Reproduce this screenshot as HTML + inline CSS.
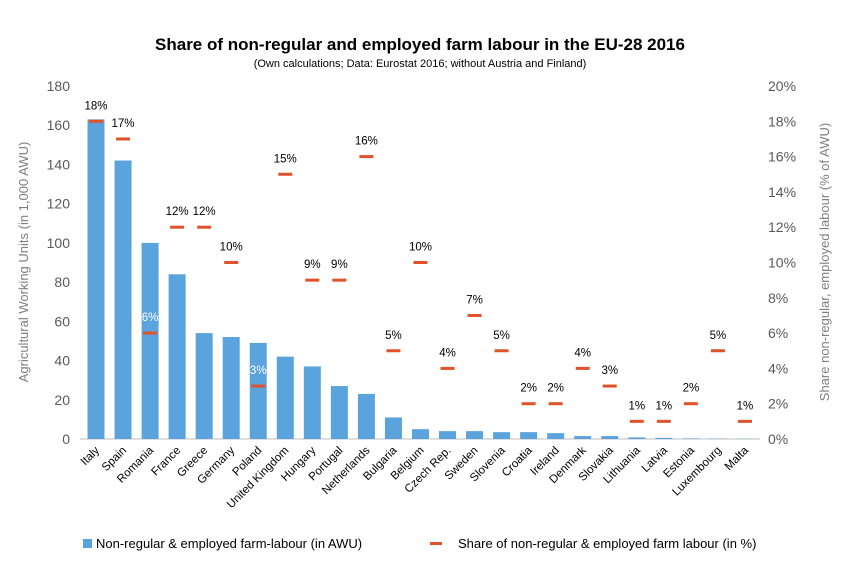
<!DOCTYPE html>
<html><head><meta charset="utf-8"><style>
body{margin:0;background:#fff;}
svg text{font-family:"Liberation Sans",Arial,sans-serif;}
</style></head><body>
<svg id="chart" width="850" height="572" xmlns="http://www.w3.org/2000/svg">
<text x="420" y="50" text-anchor="middle" font-size="17" font-weight="bold" fill="#000">Share of non-regular and employed farm labour in the EU-28 2016</text>
<text x="420" y="67" text-anchor="middle" font-size="11" fill="#000">(Own calculations; Data: Eurostat 2016; without Austria and Finland)</text>
<text transform="translate(28,262) rotate(-90)" text-anchor="middle" font-size="13" fill="#7f7f7f">Agricultural Working Units (in 1,000 AWU)</text>
<text transform="translate(829,262) rotate(-90)" text-anchor="middle" font-size="13" fill="#7f7f7f">Share non-regular, employed labour (% of AWU)</text>
<g id="axes"></g>
<g id="bars"></g>
<g id="marks"></g>
<g>
<rect x="83" y="539" width="9" height="9" fill="#5ba3dc"/>
<text x="96" y="548" font-size="13" fill="#000">Non-regular &amp; employed farm-labour (in AWU)</text>
<rect x="430" y="542" width="12" height="3" fill="#e0522a"/>
<text x="458" y="548" font-size="13" fill="#000">Share of non-regular &amp; employed farm labour (in %)</text>
</g>
</svg>
<script>
const categories=["Italy","Spain","Romania","France","Greece","Germany","Poland","United Kingdom","Hungary","Portugal","Netherlands","Bulgaria","Belgium","Czech Rep.","Sweden","Slovenia","Croatia","Ireland","Denmark","Slovakia","Lithuania","Latvia","Estonia","Luxembourg","Malta"];
const awu=[163,142,100,84,54,52,49,42,37,27,23,11,5,4,4,3.5,3.5,3,1.5,1.5,0.8,0.6,0.3,0.2,0.1];
const share=[18,17,6,12,12,10,3,15,9,9,16,5,10,4,7,5,2,2,4,3,1,1,2,5,1];
const leftTicks=[0,20,40,60,80,100,120,140,160,180];
const rightTicks=[0,2,4,6,8,10,12,14,16,18,20];
const NS="http://www.w3.org/2000/svg";
const y0=439,yTop=86,x0=96,step=27.04,plotL=80,plotR=760;
function yL(v){return y0-(v/180)*(y0-yTop);}
function yR(v){return y0-(v/20)*(y0-yTop);}
function xC(i){return x0+i*step;}
function mk(t,a,p,txt){const e=document.createElementNS(NS,t);for(const k in a)e.setAttribute(k,a[k]);if(txt!==undefined)e.textContent=txt;document.getElementById(p).appendChild(e);return e;}
let ax=mk("line",{x1:plotL,x2:plotR,y1:y0,y2:y0,stroke:"#bfbfbf","stroke-width":1},"axes");


leftTicks.forEach(v=>{const t=mk("text",{x:70,y:yL(v)+5,"text-anchor":"end","font-size":14,fill:"#595959"},"axes",v);

});
rightTicks.forEach(v=>{const t=mk("text",{x:768,y:yR(v)+5,"font-size":14,fill:"#595959"},"axes",v+"%");

});
categories.forEach((c,i)=>{
 const x=xC(i);
 const t=mk("text",{x:0,y:0,"text-anchor":"end","font-size":11.5,fill:"#000",transform:`translate(${x+4},${y0+12}) rotate(-45)`},"axes",c);
 
 
 const b=mk("rect",{x:x-8.5,y:yL(awu[i]),width:17,height:y0-yL(awu[i]),fill:"#5ba3dc"},"bars");
 
 
 const yy=yR(share[i]);
 const d=mk("rect",{x:x-7,y:yy-1.5,width:14,height:3,fill:"#e0522a"},"marks");
 
 
 const inside=yL(awu[i])<yy-14;
 const l=mk("text",{x:x,y:yy-12,"text-anchor":"middle","font-size":11.5,fill:inside?"#fff":"#000"},"marks",share[i]+"%");
 
 
});
</script>
</body></html>
